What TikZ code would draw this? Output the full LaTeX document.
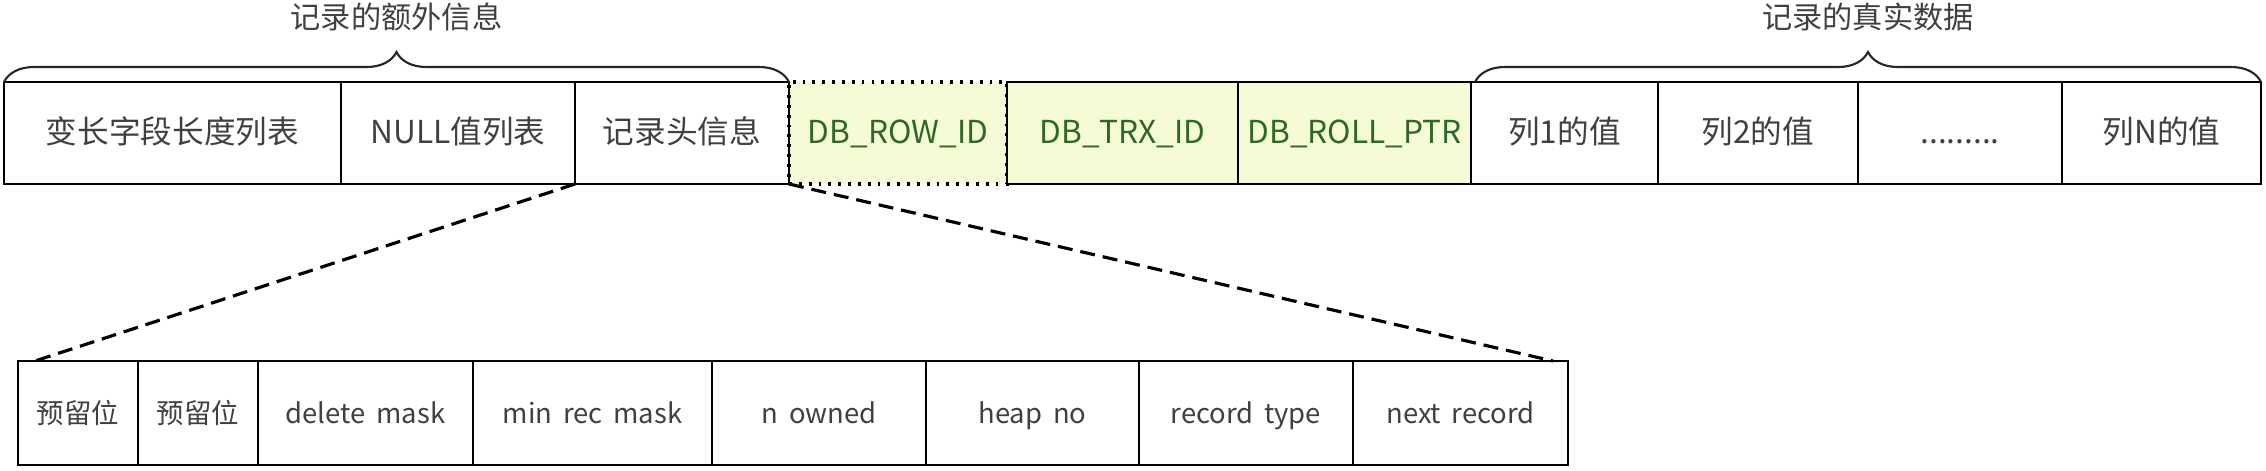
\documentclass[tikz,border=0pt]{standalone}
\usepackage{fontspec}
\setmainfont{Noto Sans CJK SC}
\usetikzlibrary{positioning,decorations.pathreplacing}
\definecolor{txtgray}{RGB}{64,64,64}
\definecolor{sysgreen}{RGB}{46,104,34}
\definecolor{sysfill}{RGB}{245,251,214}

\begin{document}
\begin{tikzpicture}[
node distance = 0pt and 0pt,
cell/.style={rectangle, draw=black, line width=0.8pt, inner sep=0pt, outer sep=0pt, minimum height=1.02cm, text height=0.8em, text depth=0.2em, text=txtgray, font=\fontsize{9}{11}\selectfont},
hidden/.style={cell, fill=sysfill, text=sysgreen},
hiddenopt/.style={hidden, dotted, line width=1.1pt},
bit/.style={cell, minimum height=1.04cm, font=\fontsize{7.8}{9}\selectfont},
group/.style={decorate, decoration={brace, amplitude=0.3cm}, line width=0.6pt, draw=black!85},
grouplbl/.style={inner sep=0pt, text=txtgray, font=\fontsize{8.6}{10}\selectfont},
expand/.style={dash pattern=on 0.15cm off 0.08cm, line width=0.9pt}]

\useasboundingbox (0,0) rectangle (22.66,-4.70);

\node[hiddenopt, minimum width=2.18cm] (rowid) at (8.98,-1.33) {DB\_ROW\_ID};
\node[cell, minimum width=2.14cm] (rechead) [left=of rowid] {记录头信息};
\node[cell, minimum width=2.34cm] (nulls) [left=of rechead] {NULL值列表};
\node[cell, minimum width=3.37cm] (varlen) [left=of nulls] {变长字段长度列表};
\node[hidden, minimum width=2.31cm] (trxid) [right=of rowid] {DB\_TRX\_ID};
\node[hidden, minimum width=2.33cm] (rollptr) [right=of trxid] {DB\_ROLL\_PTR};
\node[cell, minimum width=1.87cm] (col1) [right=of rollptr] {列1的值};
\node[cell, minimum width=2.00cm] (col2) [right=of col1] {列2的值};
\node[cell, minimum width=2.04cm] (coldots) [right=of col2] {.........};
\node[cell, minimum width=1.99cm] (colN) [right=of coldots] {列N的值};

\node[bit, minimum width=1.20cm] (resv1) at (0.78,-4.13) {预留位};
\node[bit, minimum width=1.20cm] (resv2) [right=of resv1] {预留位};
\node[bit, minimum width=2.15cm] (delmask) [right=of resv2] {delete\, mask};
\node[bit, minimum width=2.39cm] (minrec) [right=of delmask] {min\, rec\, mask};
\node[bit, minimum width=2.14cm] (nowned) [right=of minrec] {n\, owned};
\node[bit, minimum width=2.13cm] (heapno) [right=of nowned] {heap\, no};
\node[bit, minimum width=2.14cm] (rectype) [right=of heapno] {record\, type};
\node[bit, minimum width=2.15cm] (nextrec) [right=of rectype] {next\, record};

\draw[group] (varlen.north west) -- node[grouplbl, above=0.5cm] (extralbl) {记录的额外信息} (rechead.north east);
\draw[group] ([xshift=0.04cm]col1.north west) -- node[grouplbl, above=0.5cm] (datalbl) {记录的真实数据} (colN.north east);

\draw[expand] (rechead.south west) -- ([xshift=0.17cm]resv1.north west);
\draw[expand] (rechead.south east) -- ([xshift=-0.15cm]nextrec.north east);
\end{tikzpicture}
\end{document}
